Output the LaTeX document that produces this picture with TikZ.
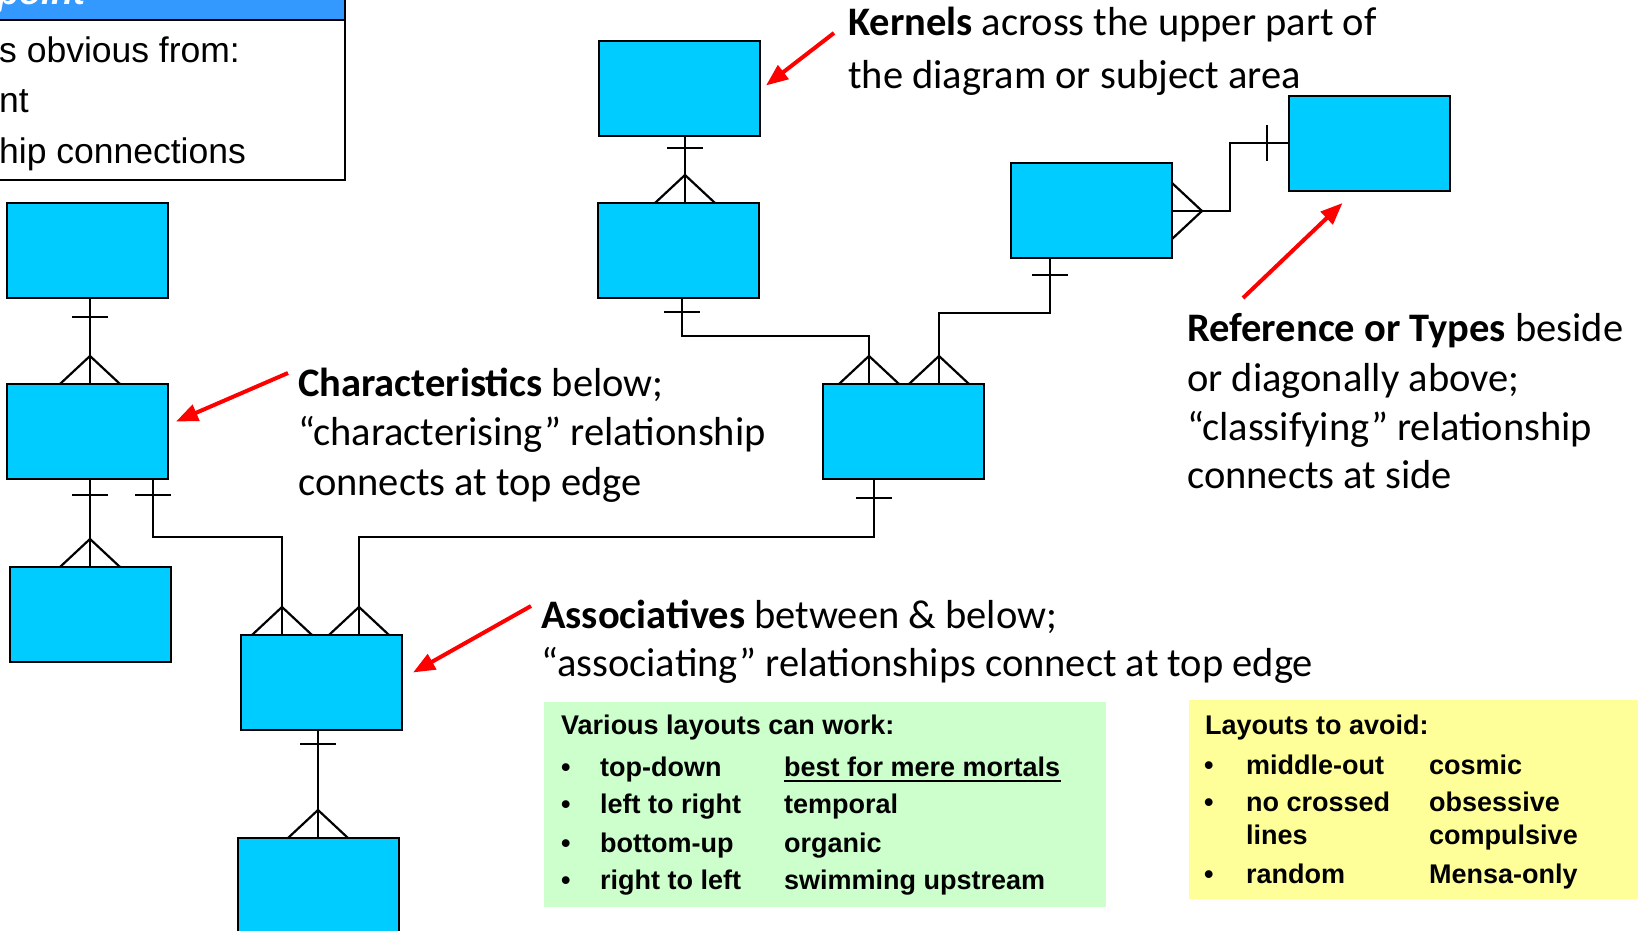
\documentclass[tikz,border=0pt]{standalone}
\usepackage{fontspec}
\setmainfont{Carlito}
\newfontfamily\arialfont{Liberation Sans}
\usetikzlibrary{arrows.meta,calc}
\definecolor{entblue}{RGB}{0,204,255}
\definecolor{bandblue}{RGB}{51,153,255}
\definecolor{notegreen}{RGB}{204,255,204}
\definecolor{noteyellow}{RGB}{255,255,153}
\definecolor{arrred}{RGB}{255,0,0}
\begin{document}
\begin{tikzpicture}[x=1pt,y=-1pt,
  entity/.style={draw=black, line width=2.5pt, fill=entblue, minimum width=161pt, minimum height=95pt, anchor=north west, inner sep=0pt, outer sep=0pt},
  erline/.style={line width=2.2pt, black},
  callout/.style={draw=arrred, line width=4pt, -{Triangle[length=22pt,width=17pt]}},
  ann/.style={anchor=base west, inner sep=0pt, font=\fontsize{40.5}{48}\selectfont},
  introtxt/.style={anchor=base west, inner sep=0pt, font=\arialfont\fontsize{35.5}{40}\selectfont},
  notetxt/.style={anchor=base west, inner sep=0pt, font=\arialfont\bfseries\fontsize{27}{32}\selectfont},
  crowv/.pic={\draw[erline] (-30,0) -- (0,-28) -- (30,0);},
  crowh/.pic={\draw[erline] (0,-28) -- (30,0) -- (0,28);},
  barh/.pic={\draw[erline] (-18,0) -- (18,0);},
  barv/.pic={\draw[erline] (0,-18) -- (0,18);},
]
\useasboundingbox (0,0) rectangle (1638,931);
\clip (0,0) rectangle (1638,931);

% partially visible intro text box
\node[draw=black, line width=2pt, fill=white, anchor=south east, minimum width=360pt, minimum height=192pt, inner sep=0pt, outer sep=0pt] (intro) at (345,180) {};
\fill[bandblue] (intro.north west) rectangle ($(intro.north east)+(0,32)$);
\draw[line width=2pt] ($(intro.north west)+(0,32)$) -- ($(intro.north east)+(0,32)$);
\draw[line width=2pt] (intro.north west) rectangle (intro.south east);
\node[anchor=base west, inner sep=0pt, text=white, font=\arialfont\bfseries\itshape\fontsize{36}{40}\selectfont] (introhead) at (-3,5) {point};
\node[introtxt] (i1) at (-1,63) {s obvious from:};
\node[introtxt] (i2) at (-1,113) {nt};
\node[introtxt] (i3) at (-1,163) {hip connections};

% entities
\node[entity] (A) at (7,203) {};
\node[entity] (B) at (7,384) {};
\node[entity] (C) at (10,567) {};
\node[entity] (D) at (241,635) {};
\node[entity, minimum height=100pt] (E) at (238,838) {};
\node[entity] (K) at (599,41) {};
\node[entity] (K2) at (598,203) {};
\node[entity] (F) at (1011,163) {};
\node[entity] (R) at (1289,96) {};
\node[entity] (G) at (823,384) {};

% K -> K2
\draw[erline] ($(K.south west)+(86,0)$) -- ($(K2.north west)+(87,0)$);
\pic at ($(K.south west)+(86,12)$) {barh};
\pic at ($(K2.north west)+(87,0)$) {crowv};
% A -> B
\draw[erline] ($(A.south west)+(83,0)$) -- ($(B.north west)+(83,0)$);
\pic at ($(A.south west)+(83,19)$) {barh};
\pic at ($(B.north west)+(83,0)$) {crowv};
% B -> C
\draw[erline] ($(B.south west)+(83,0)$) -- ($(C.north west)+(80,0)$);
\pic at ($(B.south west)+(83,16)$) {barh};
\pic at ($(C.north west)+(80,0)$) {crowv};
% B -> D
\draw[erline] ($(B.south west)+(146,0)$) |- ($(D.north west)+(41,-98)$) -- ($(D.north west)+(41,0)$);
\pic at ($(B.south west)+(146,16)$) {barh};
\pic at ($(D.north west)+(41,0)$) {crowv};
% G -> D
\draw[erline] ($(G.south west)+(51,0)$) |- ($(D.north west)+(118,-98)$) -- ($(D.north west)+(118,0)$);
\pic at ($(G.south west)+(51,19)$) {barh};
\pic at ($(D.north west)+(118,0)$) {crowv};
% K2 -> G
\draw[erline] ($(K2.south west)+(84,0)$) |- ($(G.north west)+(46,-48)$) -- ($(G.north west)+(46,0)$);
\pic at ($(K2.south west)+(84,14)$) {barh};
\pic at ($(G.north west)+(46,0)$) {crowv};
% F -> G
\draw[erline] ($(F.south west)+(39,0)$) |- ($(G.north west)+(116,-71)$) -- ($(G.north west)+(116,0)$);
\pic at ($(F.south west)+(39,17)$) {barh};
\pic at ($(G.north west)+(116,0)$) {crowv};
% F -> R
\draw[erline] ($(F.north east)+(0,48)$) -| ($(R.north west)+(-59,47)$) -- ($(R.north west)+(0,47)$);
\pic at ($(R.north west)+(-22,47)$) {barv};
\pic at ($(F.north east)+(0,48)$) {crowh};
% D -> E
\draw[erline] ($(D.south west)+(77,0)$) -- ($(E.north west)+(80,0)$);
\pic at ($(D.south west)+(77,14)$) {barh};
\pic at ($(E.north west)+(80,0)$) {crowv};

% annotations
\node[ann] (k1) at (848,36) {\textbf{Kernels} across the upper part of};
\node[ann] (k2) at (848,89) {the diagram or subject area};
\node[ann] (c1) at (298,396) {\textbf{Characteristics} below;};
\node[ann] (c2) at (298,445) {“characterising” relationship};
\node[ann] (c3) at (298,495) {connects at top edge};
\node[ann] (r1) at (1187,341) {\textbf{Reference or Types} beside};
\node[ann] (r2) at (1187,391) {or diagonally above;};
\node[ann] (r3) at (1187,440) {“classifying” relationship};
\node[ann] (r4) at (1187,488) {connects at side};
\node[ann] (a1) at (541,628) {\textbf{Associatives} between \& below;};
\node[ann] (a2) at (541,676) {“associating” relationships connect at top edge};

% callout arrows
\coordinate (kfrom) at (834,33);
\coordinate (cfrom) at (288,373);
\coordinate (rfrom) at (1243,298);
\coordinate (afrom) at (531,606);
\draw[callout] (kfrom) -- ($(K.east)+(6,-3)$);
\draw[callout] (cfrom) -- ($(B.east)+(8,-10)$);
\draw[callout] (rfrom) -- ($(R.south)+(-27,12)$);
\draw[callout] (afrom) -- ($(D.east)+(11,-10)$);

% green note
\node[fill=notegreen, anchor=north west, minimum width=562pt, minimum height=205pt, inner sep=0pt, outer sep=0pt] (green) at (544,702) {};
\node[notetxt] (gt) at (561,734) {Various layouts can work:};
\node[notetxt] (gb1) at (561,776) {•};
\node[notetxt] (gb2) at (561,813) {•};
\node[notetxt] (gb3) at (561,852) {•};
\node[notetxt] (gb4) at (561,889) {•};
\node[notetxt] (ga1) at (600,776) {top-down};
\node[notetxt] (ga2) at (600,813) {left to right};
\node[notetxt] (ga3) at (600,852) {bottom-up};
\node[notetxt] (ga4) at (600,889) {right to left};
\node[notetxt] (gc1) at (784,776) {best for mere mortals};
\draw[line width=2.2pt] ($(gc1.base west)+(0,5)$) -- ($(gc1.base east)+(0,5)$);
\node[notetxt] (gc2) at (784,813) {temporal};
\node[notetxt] (gc3) at (784,852) {organic};
\node[notetxt] (gc4) at (784,889) {swimming upstream};

% yellow note
\node[fill=noteyellow, anchor=north west, minimum width=460pt, minimum height=199pt, inner sep=0pt, outer sep=0pt] (yellow) at (1189,700) {};
\node[notetxt] (yt) at (1205,734) {Layouts to avoid:};
\node[notetxt] (yb1) at (1204,774) {•};
\node[notetxt] (yb2) at (1204,811) {•};
\node[notetxt] (yb3) at (1204,883) {•};
\node[notetxt] (ya1) at (1246,774) {middle-out};
\node[notetxt] (ya2) at (1246,811) {no crossed};
\node[notetxt] (ya3) at (1246,844) {lines};
\node[notetxt] (ya4) at (1246,883) {random};
\node[notetxt] (yc1) at (1429,774) {cosmic};
\node[notetxt] (yc2) at (1429,811) {obsessive};
\node[notetxt] (yc3) at (1429,844) {compulsive};
\node[notetxt] (yc4) at (1429,883) {Mensa-only};
\end{tikzpicture}
\end{document}
